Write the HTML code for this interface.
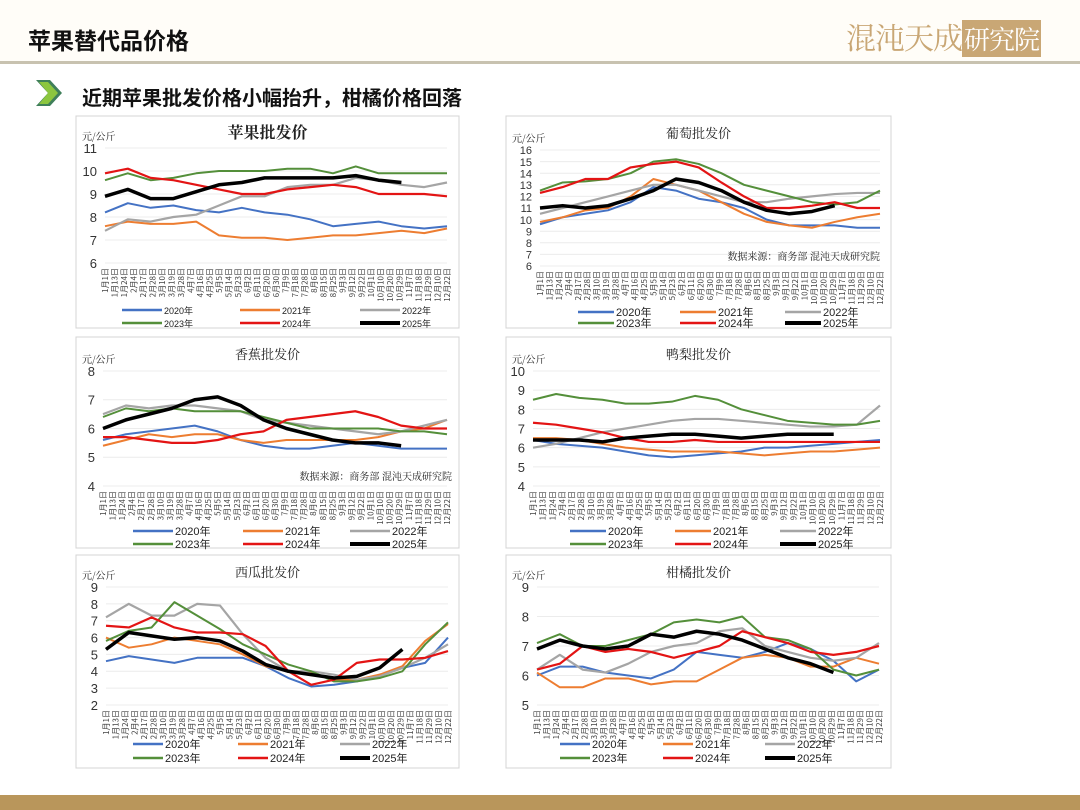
<!DOCTYPE html>
<html><head><meta charset="utf-8">
<style>
body{margin:0;width:1080px;height:810px;overflow:hidden;background:#fff;position:relative;font-family:"Liberation Sans","Noto Sans CJK SC",sans-serif}
.abs{position:absolute}
</style></head><body>
<div class="abs" style="left:0;top:0;width:1080px;height:62px;background:#fffdf8"></div>
<div class="abs" style="left:28px;top:22px;font-size:23px;font-weight:bold;color:#111;font-family:'Noto Sans CJK SC',sans-serif">苹果替代品价格</div>
<div class="abs" style="left:846px;top:14px;font-size:30px;color:#c9a775;font-family:'Noto Serif CJK SC',serif;letter-spacing:-1px">混沌天成<span style="background:#c9a775;color:#fff;font-size:26px;padding:0 2px">研究院</span></div>
<div class="abs" style="left:0;top:61px;width:1080px;height:3px;background:#c8c2b0"></div>
<svg class="abs" style="left:36px;top:80px" width="28" height="26"><polygon points="0,0 14,0 26,13 14,26 0,26 12,13" fill="#3f7f5a"/><polygon points="3,2 12,2 22,13 12,24 3,24 12,13" fill="#8cc63f"/></svg>
<div class="abs" style="left:82px;top:82px;font-size:20px;font-weight:bold;color:#111;font-family:'Noto Sans CJK SC',sans-serif">近期苹果批发价格小幅抬升，柑橘价格回落</div>
<div class="abs" style="left:0;top:795px;width:1080px;height:15px;background:#b9965b"></div>
<svg id="charts" class="abs" style="left:0;top:0" width="1080" height="810"></svg>
<script>
const years=["2020年","2021年","2022年","2023年","2024年","2025年"];
const xLabels=["1月1日","1月13日","1月24日","2月4日","2月17日","2月28日","3月10日","3月19日","3月28日","4月7日","4月16日","4月25日","5月5日","5月14日","5月23日","6月2日","6月11日","6月20日","6月30日","7月9日","7月18日","7月28日","8月6日","8月15日","8月25日","9月3日","9月12日","9月22日","10月1日","10月10日","10月20日","10月29日","11月7日","11月18日","11月29日","12月10日","12月22日"];
const appleTicks=[6,7,8,9,10,11];
const apple2020=[8.2,8.6,8.4,8.5,8.3,8.2,8.4,8.2,8.1,7.9,7.6,7.7,7.8,7.6,7.5,7.6];
const apple2021=[7.6,7.8,7.7,7.7,7.8,7.2,7.1,7.1,7.0,7.1,7.2,7.2,7.3,7.4,7.3,7.5];
const apple2022=[7.4,7.9,7.8,8.0,8.1,8.5,8.9,8.9,9.3,9.4,9.4,9.7,9.6,9.4,9.3,9.5];
const apple2023=[9.6,9.9,9.6,9.7,9.9,10.0,10.0,10.0,10.1,10.1,9.9,10.2,9.9,9.9,9.9,9.9];
const apple2024=[9.9,10.1,9.7,9.6,9.4,9.2,9.0,9.0,9.2,9.3,9.4,9.3,9.0,9.0,9.0,8.9];
const apple2025=[8.9,9.2,8.8,8.8,9.1,9.4,9.5,9.7,9.7,9.7,9.7,9.8,9.6,9.5];
const grapeTicks=[6,7,8,9,10,11,12,13,14,15,16];
const grape2020=[9.6,10.2,10.5,10.8,11.5,12.8,12.5,11.8,11.5,11.0,10.0,9.5,9.5,9.5,9.3,9.3];
const grape2021=[9.8,10.2,10.8,11.0,12.0,13.5,13.0,12.5,11.5,10.5,9.8,9.5,9.3,9.8,10.2,10.5];
const grape2022=[10.5,11.0,11.5,12.0,12.5,13.0,13.0,12.5,12.0,11.5,11.5,11.8,12.0,12.2,12.3,12.3];
const grape2023=[12.5,13.2,13.3,13.5,14.0,15.0,15.2,14.8,14.0,13.0,12.5,12.0,11.5,11.3,11.5,12.5];
const grape2024=[12.3,12.8,13.5,13.5,14.5,14.8,15.0,14.5,13.2,12.0,11.0,11.0,11.2,11.5,11.0,11.0];
const grape2025=[11.0,11.2,11.0,11.2,11.8,12.5,13.5,13.2,12.5,11.5,10.8,10.5,10.7,11.2];
const bananaTicks=[4,5,6,7,8];
const banana2020=[5.6,5.8,5.9,6.0,6.1,5.9,5.6,5.4,5.3,5.3,5.4,5.5,5.4,5.3,5.3,5.3];
const banana2021=[5.4,5.6,5.8,5.7,5.8,5.8,5.6,5.5,5.6,5.6,5.6,5.6,5.7,5.9,6.0,6.3];
const banana2022=[6.5,6.8,6.7,6.8,6.8,6.7,6.6,6.3,6.2,6.1,6.0,5.9,5.8,5.9,6.1,6.3];
const banana2023=[6.4,6.7,6.6,6.7,6.6,6.6,6.6,6.4,6.2,6.0,6.0,6.0,6.0,5.9,5.9,5.8];
const banana2024=[5.7,5.7,5.6,5.5,5.5,5.6,5.8,5.9,6.3,6.4,6.5,6.6,6.4,6.1,6.0,6.0];
const banana2025=[6.0,6.3,6.5,6.7,7.0,7.1,6.8,6.3,6.0,5.8,5.6,5.5,5.5,5.4];
const pearTicks=[4,5,6,7,8,9,10];
const pear2020=[6.4,6.2,6.1,6.0,5.8,5.6,5.5,5.6,5.7,5.8,6.0,6.0,6.1,6.2,6.3,6.4];
const pear2021=[6.5,6.5,6.4,6.2,6.0,5.9,5.8,5.8,5.8,5.7,5.6,5.7,5.8,5.8,5.9,6.0];
const pear2022=[6.0,6.2,6.5,6.8,7.0,7.2,7.4,7.5,7.5,7.4,7.3,7.2,7.1,7.1,7.2,8.2];
const pear2023=[8.5,8.8,8.6,8.5,8.3,8.3,8.4,8.7,8.5,8.0,7.7,7.4,7.3,7.2,7.2,7.4];
const pear2024=[7.3,7.2,7.0,6.8,6.5,6.3,6.3,6.4,6.3,6.3,6.3,6.3,6.3,6.3,6.3,6.3];
const pear2025=[6.4,6.4,6.4,6.3,6.5,6.6,6.7,6.7,6.6,6.5,6.6,6.7,6.7,6.7];
const melonTicks=[2,3,4,5,6,7,8,9];
const melon2020=[4.6,4.9,4.7,4.5,4.8,4.8,4.8,4.3,3.6,3.1,3.2,3.4,3.8,4.2,4.5,6.0];
const melon2021=[6.0,5.4,5.6,6.0,5.8,5.6,5.0,4.3,4.0,3.9,3.5,3.5,3.8,4.3,5.8,6.8];
const melon2022=[7.2,8.0,7.3,7.3,8.0,7.9,6.2,4.8,4.0,4.0,3.8,3.5,3.7,4.2,4.8,5.6];
const melon2023=[5.8,6.4,6.6,8.1,7.3,6.5,5.6,5.0,4.4,4.0,3.4,3.4,3.6,4.0,5.6,6.9];
const melon2024=[6.7,6.6,7.2,6.6,6.3,6.3,6.2,5.5,4.0,3.2,3.5,4.5,4.7,4.7,4.8,5.2];
const melon2025=[5.3,6.3,6.1,5.9,6.0,5.8,5.2,4.4,4.0,3.8,3.6,3.7,4.2,5.3];
const citrusTicks=[5,6,7,8,9];
const citrus2020=[6.0,6.3,6.3,6.1,6.0,5.9,6.2,6.8,6.7,6.6,6.8,7.1,6.9,6.5,5.8,6.2];
const citrus2021=[6.1,5.6,5.6,5.9,5.9,5.7,5.8,5.8,6.2,6.6,6.7,6.6,6.3,6.3,6.6,6.4];
const citrus2022=[6.2,6.7,6.2,6.1,6.4,6.8,7.0,7.1,7.5,7.6,7.0,6.8,6.6,6.5,6.6,7.1];
const citrus2023=[7.1,7.4,7.0,7.0,7.2,7.4,7.8,7.9,7.8,8.0,7.3,7.2,6.9,6.2,6.0,6.2];
const citrus2024=[6.2,6.4,7.0,6.8,6.9,6.8,6.6,6.8,7.0,7.5,7.3,7.1,6.8,6.7,6.8,7.0];
const citrus2025=[6.9,7.2,7.0,6.9,7.0,7.4,7.3,7.5,7.4,7.2,6.9,6.6,6.4,6.1];

const colors=["#4472c4","#ed7d31","#a5a5a5","#548f3a","#e31414","#000"];
const widths=[2,2,2.2,2,2.2,3.5];
const NS="http://www.w3.org/2000/svg";
const root=document.getElementById('charts');
function mk(tag,attrs,parent){const e=document.createElementNS(NS,tag);for(const k in attrs)e.setAttribute(k,attrs[k]);(parent||root).appendChild(e);return e;}
function chart(cfg,ticks,series,name){
  const g=mk('g',{});
  
  
  const fr=mk('rect',{x:cfg.px,y:cfg.py,width:cfg.pw,height:cfg.ph,fill:'#fff',stroke:'#d4d4d4','stroke-width':1},g);
  
  
  const t=mk('text',{x:cfg.px+cfg.pw/2,y:cfg.py+22,'text-anchor':'middle','font-size':cfg.tfs,'font-weight':cfg.tb?'bold':'normal',fill:'#222','font-family':'Noto Serif CJK SC,serif'},g);
  t.textContent=cfg.title;
  
  
  const u=mk('text',{x:cfg.px+6,y:cfg.y1-8,'font-size':10,fill:'#222','font-family':'Noto Serif CJK SC,serif'},g);
  u.textContent='元/公斤';
  
  
  const lo=ticks[0],hi=ticks[ticks.length-1];
  const Y=v=>cfg.y0-(v-lo)/(hi-lo)*(cfg.y0-cfg.y1);
  const X=i=>cfg.x0+i/15*(cfg.x1-cfg.x0);
  const fs=cfg.yfs||13;
  ticks.forEach(v=>{
    const l=mk('line',{x1:cfg.x0,x2:cfg.x1,y1:Y(v),y2:Y(v),stroke:'#ececec'},g);
    
    
    const tx=mk('text',{x:cfg.x0-8,y:Y(v)+fs*0.38,'text-anchor':'end','font-size':fs,fill:'#333'},g);
    tx.textContent=v;
    
    
  });
  xLabels.forEach((s,i)=>{
    const x=cfg.x0+i/(xLabels.length-1)*(cfg.x1-cfg.x0);
    const tx=mk('text',{x:0,y:0,transform:`translate(${x+3},${cfg.y0+5}) rotate(-90)`,'text-anchor':'end','font-size':8,fill:'#444','font-family':'Noto Sans CJK SC,sans-serif'},g);
    tx.textContent=s;
    
    
  });
  series.forEach((d,k)=>{
    const p=mk('polyline',{points:d.map((v,i)=>X(i)+','+Y(v)).join(' '),fill:'none',stroke:colors[k],'stroke-width':widths[k],'stroke-linejoin':'round'},g);
    
    
  });
  years.forEach((yr,k)=>{
    const col=k%3,row=Math.floor(k/3);
    const lx=cfg.lx[col],ly=cfg.ly[row];
    const l=mk('line',{x1:lx,x2:lx+cfg.ll,y1:ly,y2:ly,stroke:colors[k],'stroke-width':k==5?4:2.5},g);
    
    
    const tx=mk('text',{x:lx+cfg.ll+2,y:ly+4,'font-size':cfg.lfs,fill:'#222','font-family':'Liberation Sans,Noto Sans CJK SC,sans-serif'},g);
    tx.textContent=yr;
    
    
  });
  if(cfg.src){
    const s=mk('text',{x:cfg.src[0],y:cfg.src[1],'text-anchor':'end','font-size':10,fill:'#222','font-family':'Noto Serif CJK SC,serif'},g);
    s.textContent='数据来源：商务部  混沌天成研究院';
    
    
  }
}
chart({px:76,py:116,pw:383,ph:212,title:'苹果批发价',tfs:16,tb:true,x0:105,x1:447,y0:263,y1:148,lx:[122,240,360],ly:[310,323],ll:40,lfs:9},appleTicks,[apple2020,apple2021,apple2022,apple2023,apple2024,apple2025],'apple');
chart({px:506,py:116,pw:385,ph:212,title:'葡萄批发价',tfs:13,yfs:11,x0:540,x1:880,y0:266,y1:150,lx:[578,680,785],ly:[312,323],ll:36,lfs:11,src:[880,260]},grapeTicks,[grape2020,grape2021,grape2022,grape2023,grape2024,grape2025],'grape');
chart({px:76,py:337,pw:383,ph:211,title:'香蕉批发价',tfs:13,x0:103,x1:447,y0:486,y1:371,lx:[133,243,350],ly:[531,544],ll:40,lfs:11,src:[452,480]},bananaTicks,[banana2020,banana2021,banana2022,banana2023,banana2024,banana2025],'banana');
chart({px:506,py:337,pw:385,ph:211,title:'鸭梨批发价',tfs:13,x0:533,x1:880,y0:486,y1:371,lx:[570,675,780],ly:[531,544],ll:36,lfs:11},pearTicks,[pear2020,pear2021,pear2022,pear2023,pear2024,pear2025],'pear');
chart({px:76,py:555,pw:383,ph:213,title:'西瓜批发价',tfs:13,x0:106,x1:448,y0:705,y1:587,lx:[133,238,340],ly:[744,758],ll:30,lfs:11},melonTicks,[melon2020,melon2021,melon2022,melon2023,melon2024,melon2025],'watermelon');
chart({px:506,py:555,pw:385,ph:213,title:'柑橘批发价',tfs:13,x0:537,x1:879,y0:705,y1:587,lx:[560,663,765],ly:[744,758],ll:30,lfs:11},citrusTicks,[citrus2020,citrus2021,citrus2022,citrus2023,citrus2024,citrus2025],'citrus');
</script>
</body></html>
